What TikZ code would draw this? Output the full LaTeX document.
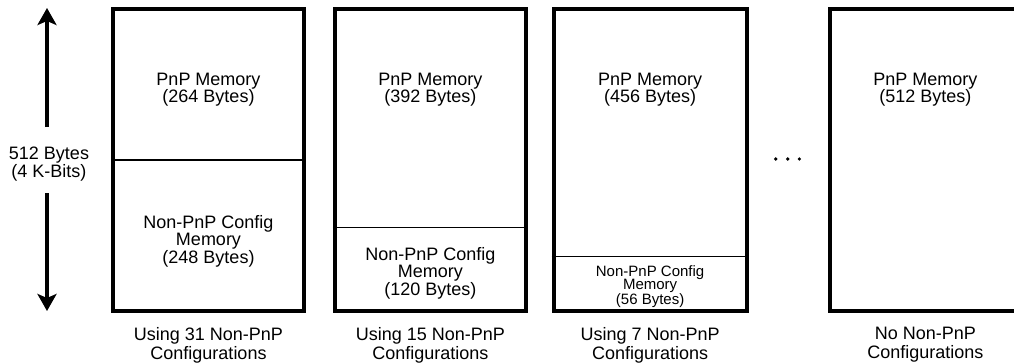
\documentclass[tikz,border=0pt]{standalone}
\usepackage{fontspec}
\setmainfont{Liberation Sans}
\usetikzlibrary{arrows.meta}
\begin{document}
\begin{tikzpicture}[x=1pt,y=-1pt,
  membox/.style={draw, line width=4pt, minimum width=191pt, minimum height=302.5pt, inner sep=0pt},
  divline/.style={line width=1.3pt},
  bigtxt/.style={align=center, inner sep=0pt, anchor=north, font=\fontsize{18}{17.5}\selectfont},
  smalltxt/.style={align=center, inner sep=0pt, anchor=north, font=\fontsize{15}{13.5}\selectfont},
  captxt/.style={align=center, inner sep=0pt, anchor=north, font=\fontsize{18}{19}\selectfont},
  bigarrow/.style={line width=4pt, -{Stealth[length=17pt,width=19pt,inset=4pt]}}]
\useasboundingbox (0,0) rectangle (1014,362);
\clip (0,0) rectangle (1014,362);

% boxes
\node[membox] (b1) at (208.5,159.75) {};
\node[membox] (b2) at (430.4,159.75) {};
\node[membox, minimum width=193pt] (b3) at (650.1,159.75) {};
\node[membox] (b4) at (925.4,159.75) {};

% dividers
\draw[divline] (b1.west |- 0,160) -- (b1.east |- 0,160);
\draw[divline] (b2.west |- 0,227.7) -- (b2.east |- 0,227.7);
\draw[divline] (b3.west |- 0,256.7) -- (b3.east |- 0,256.7);

% texts in boxes
\node[bigtxt] (t1a) at (208.5,72.5) {PnP Memory\\(264 Bytes)};
\node[bigtxt] (t1b) at (208.5,215) {Non-PnP Config\\Memory\\(248 Bytes)};
\node[bigtxt] (t2a) at (430.4,72.5) {PnP Memory\\(392 Bytes)};
\node[bigtxt] (t2b) at (430.4,247) {Non-PnP Config\\Memory\\(120 Bytes)};
\node[bigtxt] (t3a) at (650.1,72.5) {PnP Memory\\(456 Bytes)};
\node[smalltxt] (t3b) at (650.1,265) {Non-PnP Config\\Memory\\(56 Bytes)};
\node[bigtxt] (t4a) at (925.4,72.5) {PnP Memory\\(512 Bytes)};

% captions
\node[captxt] (c1) at (208.5,327) {Using 31 Non-PnP\\Configurations};
\node[captxt] (c2) at (430.4,327) {Using 15 Non-PnP\\Configurations};
\node[captxt] (c3) at (650.1,327) {Using 7 Non-PnP\\Configurations};
\node[captxt] (c4) at (925.4,327) {No Non-PnP\\Configurations};

% size label and arrows
\node[bigtxt] (lbl) at (49,147) {512 Bytes\\(4 K-Bits)};
\coordinate (upstart) at (47,127);
\coordinate (uptip) at (47,8);
\coordinate (dnstart) at (47,193);
\coordinate (dntip) at (47,311);
\draw[bigarrow] (upstart) -- (uptip);
\draw[bigarrow] (dnstart) -- (dntip);

% ellipsis
\foreach \xx in {775.7,787.7,799.3} \fill (\xx,159) circle (1.8pt);
\end{tikzpicture}
\end{document}
